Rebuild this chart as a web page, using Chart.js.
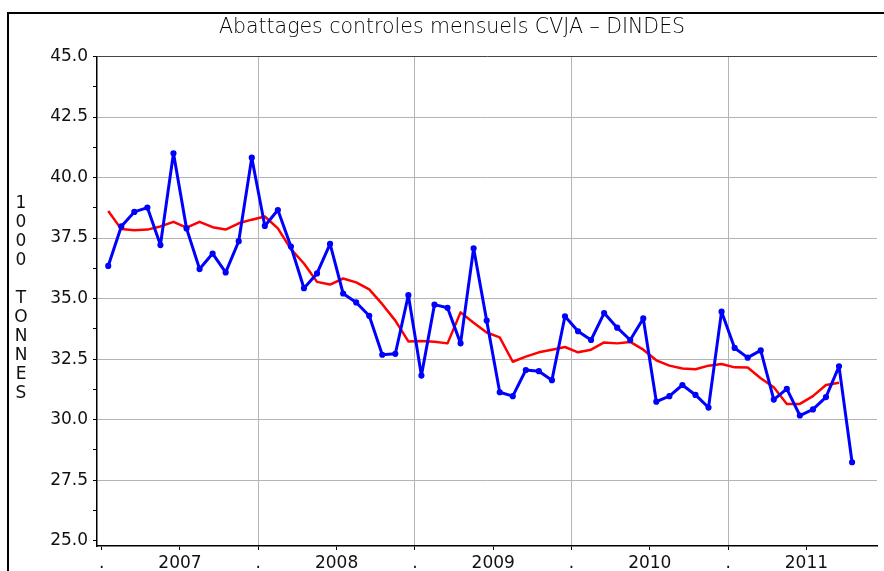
<!DOCTYPE html>
<html>
<head>
<meta charset="utf-8">
<script src="https://cdn.jsdelivr.net/npm/chart.js@4.4.1/dist/chart.umd.min.js"></script>
<style>
  html, body { margin: 0; padding: 0; background: #fff; }
</style>
</head>
<body>
<canvas id="myChart" width="884" height="571"></canvas>
<script>
  // monthly tonnage, Jan 2007 .. Oct 2011 (1000 t)
  const monthly = [
    36.35, 37.98, 38.58, 38.76, 37.21, 41.00, 37.90, 36.22, 36.86, 36.08, 37.37, 40.82,
    38.00, 38.66, 37.15, 35.43, 36.04, 37.26, 35.21, 34.84, 34.29, 32.68, 32.72, 35.14,
    31.82, 34.75, 34.62, 33.15, 37.08, 34.09, 31.13, 30.97, 32.05, 32.00, 31.63, 34.27,
    33.65, 33.29, 34.40, 33.80, 33.29, 34.18, 30.74, 30.97, 31.43, 31.02, 30.50, 34.46,
    32.96, 32.56, 32.86, 30.83, 31.27, 30.17, 30.42, 30.93, 32.20, 28.24
  ];

  // smoothed series, Jan 2007 .. Sep 2011
  const smoothed = [
    38.62, 37.87, 37.82, 37.85, 37.98, 38.17, 37.93, 38.17, 37.95, 37.85, 38.11, 38.26,
    38.39, 37.90, 37.04, 36.45, 35.69, 35.58, 35.83, 35.67, 35.38, 34.77, 34.09, 33.23,
    33.25, 33.22, 33.15, 34.43, 34.00, 33.60, 33.40, 32.39, 32.60, 32.78, 32.89, 33.00,
    32.78, 32.89, 33.19, 33.15, 33.21, 32.89, 32.45, 32.23, 32.11, 32.08, 32.23, 32.30,
    32.16, 32.15, 31.71, 31.34, 30.65, 30.65, 30.97, 31.43, 31.52
  ];

  const years = ['2007', '2008', '2009', '2010', '2011'];
  const yLabel = '1000 TONNES';
  const title = 'Abattages controles mensuels CVJA \u2013 DINDES';

  const toPoints = arr => arr.map((v, i) => ({ x: i + 0.5, y: v }));

  const decor = {
    id: 'decor',
    beforeDraw(chart) {
      const ctx = chart.ctx;
      ctx.save();
      ctx.fillStyle = '#fff';
      ctx.fillRect(0, 0, chart.width, chart.height);
      // outer frame
      ctx.strokeStyle = '#000';
      ctx.lineWidth = 2;
      ctx.beginPath();
      ctx.moveTo(8, chart.height + 5);
      ctx.lineTo(8, 13);
      ctx.lineTo(chart.width + 5, 13);
      ctx.stroke();
      // title
      ctx.fillStyle = '#000';
      ctx.font = '200 20.5px "DejaVu Sans"';
      ctx.textAlign = 'center';
      ctx.textBaseline = 'middle';
      ctx.fillText(title, 452, 28);
      // vertical letters
      ctx.fillStyle = '#111';
      ctx.font = '17px "DejaVu Sans"';
      yLabel.split('').forEach((c, i) => {
        ctx.fillText(c, 21, 204 + i * 19);
      });
      ctx.restore();
    }
  };

  const config = {
    type: 'line',
    data: {
      datasets: [
        {
          label: 'mensuel',
          data: toPoints(monthly),
          borderColor: '#0000ff',
          backgroundColor: '#0000ff',
          borderWidth: 3,
          borderJoinStyle: 'round',
          pointRadius: 1.6,
          tension: 0
        },
        {
          label: 'moyenne',
          data: toPoints(smoothed),
          borderColor: '#ff0000',
          backgroundColor: '#ff0000',
          borderWidth: 2.5,
          borderJoinStyle: 'round',
          pointRadius: 0,
          tension: 0
        }
      ]
    },
    options: {
      responsive: false,
      animation: false,
      events: [],
      layout: { padding: { top: 56.5, left: 0, right: 0, bottom: 0 } },
      plugins: { legend: { display: false }, title: { display: false }, tooltip: { enabled: false } },
      scales: {
        x: {
          type: 'linear',
          min: -0.36,
          max: 59.41,
          afterBuildTicks(scale) {
            const t = [];
            for (let v = 0; v <= 54; v += 6) t.push({ value: v });
            scale.ticks = t;
          },
          afterFit(scale) {
            scale.height = 25;
          },
          border: { color: '#000', width: 1.5 },
          grid: {
            color: c => (c.tick && c.tick.value % 12 === 0 && c.tick.value > 0) ? '#b4b4b4' : 'rgba(0,0,0,0)',
            tickColor: '#000',
            tickLength: 4,
            lineWidth: 1
          },
          ticks: {
            autoSkip: false,
            maxRotation: 0,
            padding: 3,
            color: '#111',
            font: { family: 'DejaVu Sans', size: 17 },
            callback: v => (v % 12 === 6) ? years[(v - 6) / 12] : '.'
          }
        },
        y: {
          min: 24.78,
          max: 45,
          afterBuildTicks(scale) {
            const t = [];
            for (let v = 25; v <= 45.001; v += 1.25) t.push({ value: v });
            scale.ticks = t;
          },
          afterFit(scale) {
            scale.width = 97;
          },
          border: { color: '#000', width: 1.5 },
          grid: {
            color: c => {
              if (!c.tick) return 'rgba(0,0,0,0)';
              const v = c.tick.value;
              if (Math.abs(v - 45) < 0.01) return '#444';
              if (Math.abs(v - 25) < 0.01) return 'rgba(0,0,0,0)';
              return (Math.abs(v / 2.5 - Math.round(v / 2.5)) < 0.01) ? '#b4b4b4' : 'rgba(0,0,0,0)';
            },
            tickColor: '#000',
            tickLength: 4,
            lineWidth: 1
          },
          ticks: {
            padding: 5,
            color: '#111',
            font: { family: 'DejaVu Sans', size: 17 },
            callback: v => (Math.abs(v / 2.5 - Math.round(v / 2.5)) < 0.01) ? v.toFixed(1) : ''
          }
        }
      }
    },
    plugins: [decor]
  };

  const myChart = new Chart(
    document.getElementById('myChart'),
    config
  );
</script>
</body>
</html>
